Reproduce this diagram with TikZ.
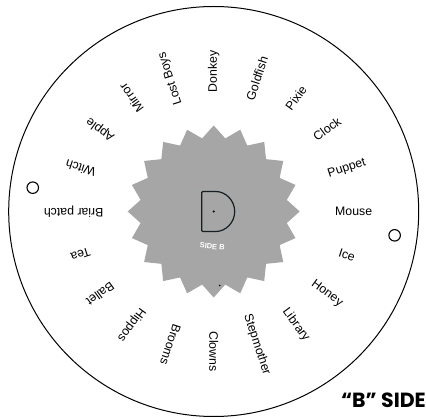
\documentclass[tikz,border=0pt]{standalone}
\usepackage{fontspec}
\setmainfont{Liberation Sans}
\newfontfamily\sidefont{Poppins}
\definecolor{starfill}{RGB}{166,166,166}
\definecolor{dline}{RGB}{20,30,35}

\begin{document}
\begin{tikzpicture}[x=1pt,y=1pt,
    lbl/.style={font=\fontsize{12.3}{14}\selectfont,inner sep=0pt},
    hole/.style={draw,line width=1.1pt,circle,minimum size=11.5pt,inner sep=0pt}]
        \def\R{205}
        \def\rl{140}
        \useasboundingbox (0,0) rectangle (426,418);

        \begin{scope}[shift={(213.7,206.5)}]
        % 外周
        \draw[line width=1pt] (0,0) circle (\R);

        % --- 星形 ---
        \fill[starfill] (0:86) \foreach \k in {0,...,19}{ -- ({\k*18}:86) -- ({\k*18+9}:74) } -- cycle;

        % D の形
        \draw[line width=1.2pt,dline,rounded corners=1pt] (-12,20) -- (1,20) arc[start angle=90,end angle=-90,radius=20] -- (-12,-20) -- cycle;
        \fill (0,0) circle (1.1);
        \node[font=\bfseries\fontsize{7.5}{8}\selectfont,text=white,rotate=-5] (sideb) at (-1.5,-35) {SIDE B};
        \fill (6,-74) circle (0.8);

        % --- ラベル ---
        \foreach \w [count=\i from 0] in {Mouse,Puppet,Clock,Pixie,Goldfish,Donkey,Lost Boys,Mirror,Apple,Witch,Briar patch,Tea,Ballet,Hippos,Brooms,Clowns,Stepmother,Library,Honey,Ice}
          \node[lbl,rotate=18*\i] (w\i) at ({18*\i}:\rl) {\w};

        % 穴
        \node[hole] (holeL) at (172.5:182.5) {};
        \node[hole] (holeR) at (-7.5:182.5) {};
        \end{scope}

        \node[font=\sidefont\bfseries\fontsize{20.5}{22}\selectfont,anchor=base east,inner sep=0pt] (title) at (426,10.3) {“B” SIDE};
      \end{tikzpicture}
\end{document}
